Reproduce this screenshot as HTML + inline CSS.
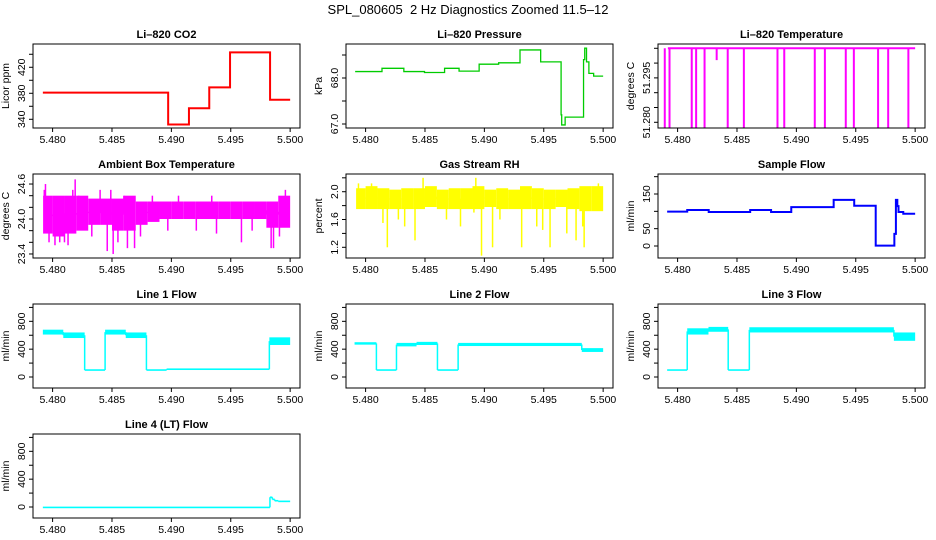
<!DOCTYPE html>
<html><head><meta charset="utf-8"><style>
html,body{margin:0;padding:0;background:#fff;}
svg{display:block;font-family:"Liberation Sans",sans-serif;}
</style></head><body>
<svg id="c" width="936" height="540" viewBox="0 0 936 540">
<rect x="0" y="0" width="936" height="540" fill="#fff"/>
<text x="468" y="14" text-anchor="middle" font-size="13" style="white-space:pre">SPL_080605&#160; 2 Hz Diagnostics Zoomed 11.5–12</text>
</svg>
<script>
// ---- shared x axis ----
const xTicks = [5.480, 5.485, 5.490, 5.495, 5.500];
const xTickLabels = ["5.480", "5.485", "5.490", "5.495", "5.500"];
const tEnd = 5.500;

// ---- CO2 (step series) ----
const co2T = [5.47918, 5.48973, 5.49148, 5.49319, 5.49494, 5.49831];
const co2V = [381, 332, 357, 389, 443, 370];
// ---- Pressure ----
const presT = [5.47912, 5.48138, 5.48322, 5.48496, 5.48665, 5.48787, 5.48956, 5.49120, 5.49300, 5.49474, 5.49646, 5.49651, 5.49680, 5.49835, 5.49845, 5.49860, 5.49880, 5.49920];
const presV = [68.14, 68.21, 68.14, 68.12, 68.21, 68.15, 68.30, 68.33, 68.61, 68.35, 67.20, 66.98, 67.15, 68.40, 68.65, 68.35, 68.10, 68.04];
// ---- Li-820 temperature ----
const tempBase = 51.305;
const tempDropT = [5.47892, 5.47932, 5.48119, 5.48156, 5.48227, 5.48329, 5.48422, 5.48558, 5.48841, 5.48898, 5.49155, 5.49240, 5.49416, 5.49484, 5.49688, 5.49773, 5.49943];
const tempDropV = [51.278, 51.278, 51.278, 51.278, 51.278, 51.301, 51.278, 51.278, 51.278, 51.278, 51.278, 51.278, 51.278, 51.278, 51.278, 51.278, 51.278];
// ---- Ambient box temperature (band per 0.001 bin + spikes) ----
const ambBinT = [5.4792, 5.480, 5.481, 5.482, 5.483, 5.484, 5.485, 5.486, 5.487, 5.488, 5.489, 5.490, 5.491, 5.492, 5.493, 5.494, 5.495, 5.496, 5.497, 5.498, 5.499];
const ambLo = [23.75, 23.70, 23.75, 23.80, 23.90, 23.90, 23.80, 23.80, 23.90, 23.95, 24.00, 24.00, 24.00, 24.00, 24.00, 24.00, 24.00, 24.00, 24.00, 23.85, 23.85];
const ambHi = [24.40, 24.40, 24.40, 24.40, 24.35, 24.35, 24.35, 24.40, 24.30, 24.30, 24.30, 24.30, 24.30, 24.30, 24.30, 24.30, 24.30, 24.30, 24.30, 24.30, 24.40];
const ambSpikeT = [5.4793, 5.4794, 5.4797, 5.4802, 5.4806, 5.4810, 5.4813, 5.4817, 5.4819, 5.4822, 5.4833, 5.4840, 5.4846, 5.4849, 5.4851, 5.4855, 5.4860, 5.4863, 5.4869, 5.4874, 5.4884, 5.4897, 5.4906, 5.4921, 5.4934, 5.4938, 5.4959, 5.4968, 5.4984, 5.4986, 5.4991, 5.4996];
const ambSpikeV = [24.50, 24.60, 23.60, 23.55, 23.60, 23.60, 23.55, 24.50, 24.68, 24.40, 23.70, 24.50, 23.45, 24.50, 23.40, 23.60, 24.40, 23.50, 23.50, 23.70, 24.40, 23.80, 24.40, 23.80, 24.40, 23.75, 23.60, 23.80, 23.50, 23.50, 23.70, 24.50];
// ---- Gas stream RH ----
const rhBinT = [5.4792, 5.480, 5.481, 5.482, 5.483, 5.484, 5.485, 5.486, 5.487, 5.488, 5.489, 5.490, 5.491, 5.492, 5.493, 5.494, 5.495, 5.496, 5.497, 5.498, 5.499];
const rhLo = [1.75, 1.75, 1.75, 1.75, 1.75, 1.75, 1.78, 1.75, 1.75, 1.75, 1.75, 1.78, 1.75, 1.75, 1.75, 1.75, 1.75, 1.78, 1.75, 1.72, 1.72];
const rhHi = [2.05, 2.08, 2.05, 2.03, 2.05, 2.05, 2.08, 2.03, 2.05, 2.05, 2.08, 2.03, 2.05, 2.03, 2.08, 2.05, 2.03, 2.03, 2.05, 2.08, 2.08];
const rhSpikeT = [5.47940, 5.48050, 5.48146, 5.48183, 5.48276, 5.48329, 5.48416, 5.48484, 5.48681, 5.48799, 5.48912, 5.48928, 5.48976, 5.49069, 5.49131, 5.49314, 5.49441, 5.49491, 5.49553, 5.49694, 5.49772, 5.49828, 5.49840, 5.49960];
const rhSpikeV = [2.12, 2.12, 1.55, 1.20, 1.60, 1.50, 1.30, 2.20, 1.60, 1.50, 1.70, 2.20, 1.08, 1.20, 1.60, 1.20, 1.50, 1.45, 1.20, 1.40, 1.30, 1.50, 1.20, 2.12];
// ---- Sample flow ----
const sfT = [5.47912, 5.48081, 5.48262, 5.48611, 5.48787, 5.48957, 5.49314, 5.49487, 5.49668, 5.49825, 5.49838, 5.49850, 5.49860, 5.49900];
const sfV = [99, 104, 98, 104, 98, 112, 133, 116, 1, 35, 133, 115, 98, 93];
// ---- Line flows (bands) ----
const l1Start = [5.47918, 5.48090, 5.48270, 5.48442, 5.48616, 5.48790, 5.48960, 5.49825];
const l1Lo = [610, 560, 100, 610, 560, 100, 112, 460];
const l1Hi = [680, 640, 100, 680, 640, 100, 112, 570];
const l2Start = [5.47907, 5.48091, 5.48260, 5.48429, 5.48605, 5.48779, 5.49820];
const l2Lo = [465, 100, 440, 460, 100, 445, 360];
const l2Hi = [500, 100, 490, 505, 100, 490, 415];
const l3Start = [5.47912, 5.48081, 5.48260, 5.48426, 5.48604, 5.49821];
const l3Lo = [100, 610, 650, 100, 640, 520];
const l3Hi = [100, 700, 720, 100, 715, 640];
const l4Start = [5.47918, 5.49830, 5.49850, 5.49870, 5.49900];
const l4Lo = [-12, 140, 110, 90, 78];
const l4Hi = [0, 140, 110, 90, 84];

const NS = "http://www.w3.org/2000/svg";
const svg = document.getElementById("c");
function mk(tag, attrs, parent) {
  const e = document.createElementNS(NS, tag);
  for (const k in attrs) e.setAttribute(k, attrs[k]);
  (parent || svg).appendChild(e);
  return e;
}
const X0 = 5.47835, X1 = 5.50083;
function panel(col, row, title, ylab, y0, y1, yt, ytl, name) {
  const L = [33, 346, 658][col], W = 267, T = 44 + 130 * row, H = 84;
  const g = mk("g", {});
  
  
  const sx = v => L + (v - X0) / (X1 - X0) * W;
  const sy = v => T + H - (v - y0) / (y1 - y0) * H;
  const clip = mk("clipPath", { id: "cp" + name }, g);
  mk("rect", { x: L, y: T, width: W, height: H }, clip);
  const plot = mk("g", { "clip-path": "url(#cp" + name + ")" }, g);
  
  
  const box = mk("rect", { x: L, y: T, width: W, height: H, fill: "none", stroke: "#000", "stroke-width": 1 }, g);
  
  
  const tt = mk("text", { x: L + W / 2, y: T - 6, "text-anchor": "middle", "font-size": 11, "font-weight": "bold" }, g);
  tt.textContent = title;
  
  
  xTicks.forEach((v, i) => {
    mk("line", { x1: sx(v), x2: sx(v), y1: T + H, y2: T + H + 4, stroke: "#000" }, g);
    const t = mk("text", { x: sx(v), y: T + H + 15, "text-anchor": "middle", "font-size": 10.5 }, g);
    t.textContent = xTickLabels[i];
    
    
  });
  yt.forEach((v, i) => {
    mk("line", { x1: L - 4, x2: L, y1: sy(v), y2: sy(v), stroke: "#000" }, g);
    if (ytl[i]) {
      const t = mk("text", { x: 0, y: 0, "text-anchor": "middle", "font-size": 10.5, transform: `translate(${L - 8},${sy(v)}) rotate(-90)` }, g);
      t.textContent = ytl[i];
      
      
    }
  });
  const yl = mk("text", { x: 0, y: 0, "text-anchor": "middle", "font-size": 10.5, transform: `translate(${L - 24},${T + H / 2}) rotate(-90)` }, g);
  yl.textContent = ylab;
  
  
  return { sx, sy, plot };
}
function steps(p, ts, vs, color, w) {
  let d = `M${p.sx(ts[0])},${p.sy(vs[0])}`;
  for (let i = 1; i < ts.length; i++) d += `L${p.sx(ts[i])},${p.sy(vs[i - 1])}L${p.sx(ts[i])},${p.sy(vs[i])}`;
  d += `L${p.sx(tEnd)},${p.sy(vs[vs.length - 1])}`;
  const e = mk("path", { d, fill: "none", stroke: color, "stroke-width": w }, p.plot);
  
  
}
function bands(p, st, lo, hi, color) {
  let d = "";
  for (let i = 0; i < st.length; i++) {
    const a = p.sx(st[i]), b = p.sx(i + 1 < st.length ? st[i + 1] : tEnd);
    const y1 = p.sy(hi[i]), y2 = p.sy(lo[i]);
    const h = Math.max(y2 - y1, 1.6);
    const r = mk("rect", { x: a, y: (y1 + y2) / 2 - h / 2, width: b - a, height: h, fill: color }, p.plot);
    
    
    if (i > 0) {
      const m0 = p.sy((lo[i - 1] + hi[i - 1]) / 2), m1 = p.sy((lo[i] + hi[i]) / 2);
      d += `M${a},${m0}L${a},${m1}`;
    }
  }
  const e = mk("path", { d, stroke: color, "stroke-width": 1.5, fill: "none" }, p.plot);
  
  
}
function spikes(p, ts, vs, base, color, w) {
  ts.forEach((t, i) => {
    const e = mk("line", { x1: p.sx(t), x2: p.sx(t), y1: p.sy(base), y2: p.sy(vs[i]), stroke: color, "stroke-width": w }, p.plot);
    
    
  });
}

// CO2
let p = panel(0, 0, "Li–820 CO2", "Licor ppm", 326.6, 455.8, [340, 360, 380, 400, 420, 440], ["340", "", "380", "", "420", ""], "co2");
steps(p, co2T, co2V, "#f00", 2);
// Pressure
p = panel(1, 0, "Li–820 Pressure", "kPa", 66.913, 68.739, [67, 67.5, 68, 68.5], ["67.0", "", "68.0", ""], "pressure");
steps(p, presT, presV, "#0c0", 1.3);
// Temperature
p = panel(2, 0, "Li–820 Temperature", "degrees C", 51.27807, 51.30645, [51.280, 51.285, 51.290, 51.295, 51.300, 51.305], ["51.280", "", "", "51.295", "", ""], "li820-temp");
steps(p, [5.47918], [tempBase], "#f0f", 2);
spikes(p, tempDropT, tempDropV, tempBase, "#f0f", 2);
// Ambient
p = panel(0, 1, "Ambient Box Temperature", "degrees C", 23.331, 24.772, [23.4, 23.6, 23.8, 24.0, 24.2, 24.4, 24.6], ["23.4", "", "", "24.0", "", "", "24.6"], "ambient-temp");
bands(p, ambBinT, ambLo, ambHi, "#f0f");
spikes(p, ambSpikeT, ambSpikeV, 24.1, "#f0f", 1.5);
// RH
p = panel(1, 1, "Gas Stream RH", "percent", 1.046, 2.255, [1.2, 1.4, 1.6, 1.8, 2.0, 2.2], ["1.2", "", "1.6", "", "2.0", ""], "gas-rh");
bands(p, rhBinT, rhLo, rhHi, "#ff0");
spikes(p, rhSpikeT, rhSpikeV, 1.9, "#ff0", 1.5);
// Sample flow
p = panel(2, 1, "Sample Flow", "ml/min", -34.6, 207.7, [0, 50, 100, 150, 200], ["0", "50", "", "150", ""], "sample-flow");
steps(p, sfT, sfV, "#00f", 2);
// Line flows
const fy0 = -158, fy1 = 1049, ft = [0, 200, 400, 600, 800, 1000], ftl = ["0", "", "400", "", "800", ""];
p = panel(0, 2, "Line 1 Flow", "ml/min", fy0, fy1, ft, ftl, "line1-flow");
bands(p, l1Start, l1Lo, l1Hi, "#0ff");
p = panel(1, 2, "Line 2 Flow", "ml/min", fy0, fy1, ft, ftl, "line2-flow");
bands(p, l2Start, l2Lo, l2Hi, "#0ff");
p = panel(2, 2, "Line 3 Flow", "ml/min", fy0, fy1, ft, ftl, "line3-flow");
bands(p, l3Start, l3Lo, l3Hi, "#0ff");
p = panel(0, 3, "Line 4 (LT) Flow", "ml/min", fy0, fy1, ft, ftl, "line4-flow");
bands(p, l4Start, l4Lo, l4Hi, "#0ff");
</script>
</body></html>
